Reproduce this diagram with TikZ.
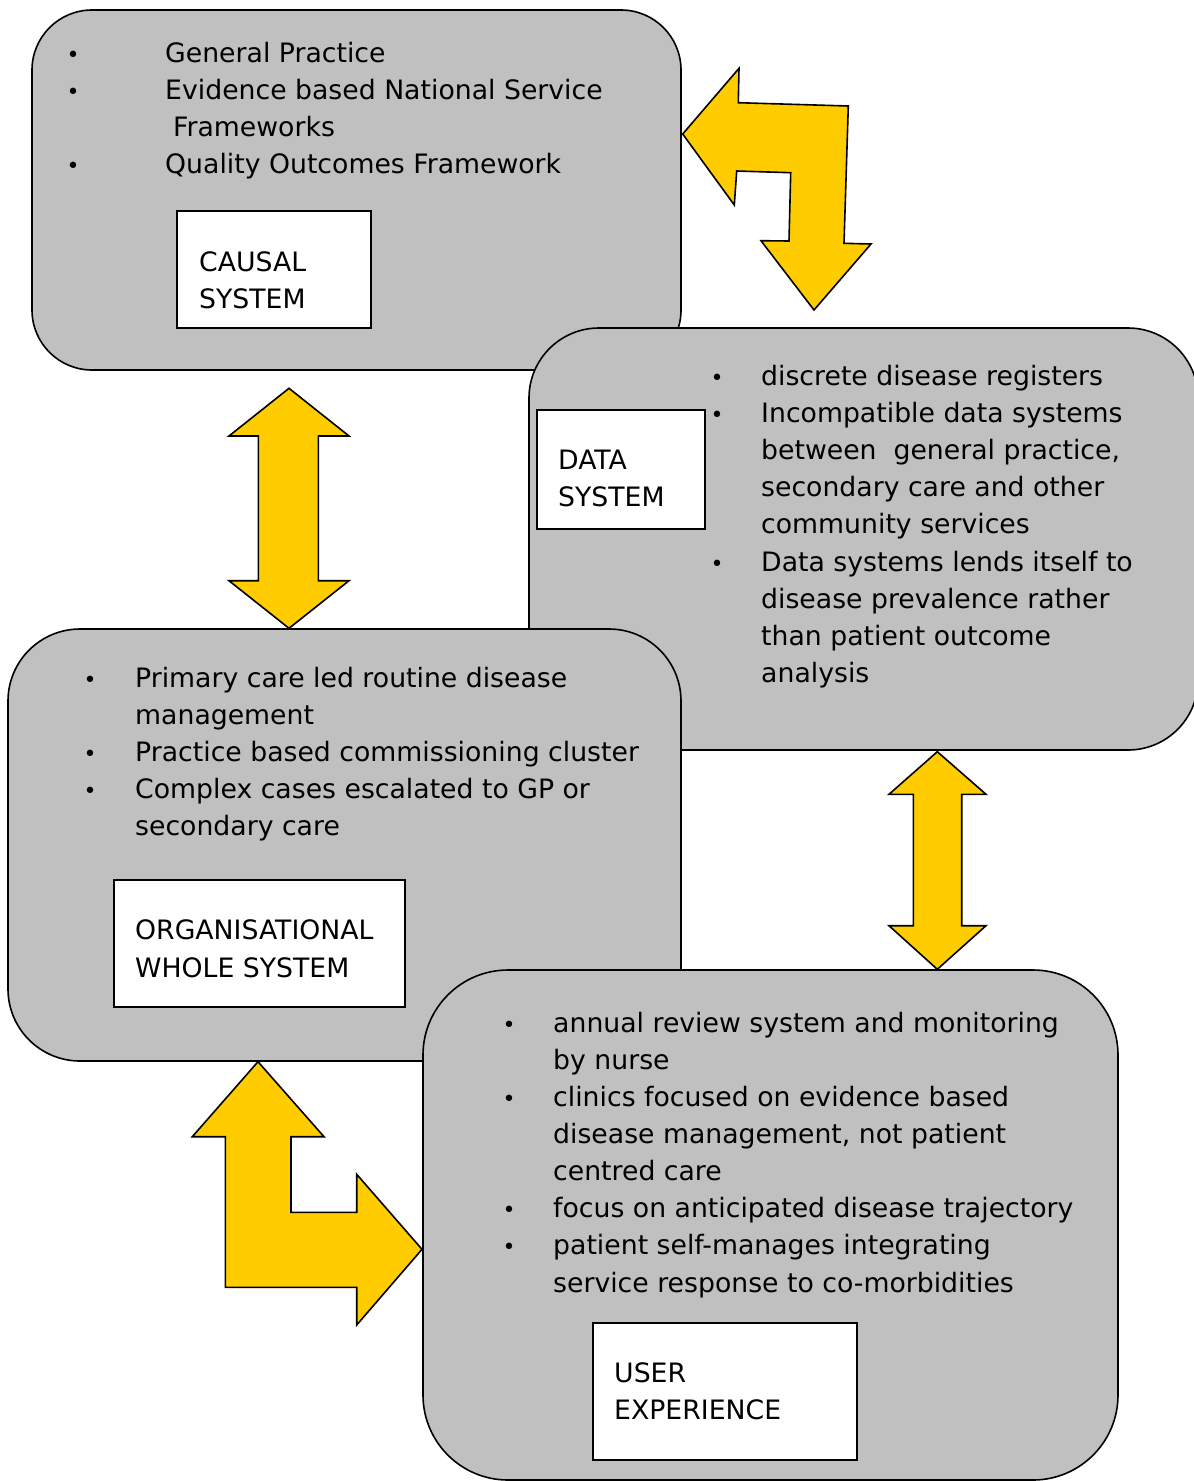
\documentclass[tikz,border=0pt]{standalone}
\usepackage{fontspec}
\setmainfont{DejaVu Sans}
\definecolor{panelgray}{HTML}{C0C0C0}
\definecolor{arrowyellow}{HTML}{FFCC00}
\begin{document}
\begin{tikzpicture}[x=1pt,y=-1pt,
  panel/.style={draw=black, line width=1.6pt, fill=panelgray, inner sep=0pt},
  tag/.style={draw=black, line width=1.6pt, fill=white, inner sep=0pt},
  txt/.style={anchor=base west, inner sep=0pt, font=\fontsize{26.7}{37}\selectfont},
  dot/.style={anchor=base, inner sep=0pt, font=\fontsize{22}{37}\selectfont},
  blockarrow/.style={draw=black, line width=1.6pt, fill=arrowyellow, line join=miter}]

\useasboundingbox (0,0) rectangle (1194,1481);

% ---- causal system ----
\node[panel, minimum width=649pt, minimum height=360pt, rounded corners=60pt] (causal) at (356.5,190) {};
\node[dot] (cb1) at (73,62.5) {•};
\node[txt] (c1) at (165,62.5) {General Practice};
\node[dot] (cb2) at (73,99.5) {•};
\node[txt] (c2) at (165,99.5) {Evidence based National Service};
\node[txt] (c3) at (173,136.5) {Frameworks};
\node[dot] (cb3) at (73,173.5) {•};
\node[txt] (c4) at (165,173.5) {Quality Outcomes Framework};
\node[tag, minimum width=194pt, minimum height=117pt] (causaltag) at (274,269.5) {};
\node[txt] (ct1) at (199,271.5) {CAUSAL};
\node[txt] (ct2) at (199,308.5) {SYSTEM};

% ---- data system ----
\node[panel, minimum width=669pt, minimum height=422pt, rounded corners=70pt] (data) at (863.5,539) {};
\node[dot] (db1) at (717,385) {•};
\node[txt] (d1) at (761,385) {discrete disease registers};
\node[dot] (db2) at (717,422) {•};
\node[txt] (d2) at (761,422) {Incompatible data systems};
\node[txt] (d3) at (761,459) {between~ general practice,};
\node[txt] (d4) at (761,496) {secondary care and other};
\node[txt] (d5) at (761,533.5) {community services};
\node[dot] (db3) at (717,571) {•};
\node[txt] (d6) at (761,571) {Data systems lends itself to};
\node[txt] (d7) at (761,608) {disease prevalence rather};
\node[txt] (d8) at (761,645) {than patient outcome};
\node[txt] (d9) at (761,682) {analysis};
\node[tag, minimum width=168pt, minimum height=119pt] (datatag) at (621,469.5) {};
\node[txt] (dt1) at (558,469) {DATA};
\node[txt] (dt2) at (558,506) {SYSTEM};

% ---- organisational whole system ----
\node[panel, minimum width=673pt, minimum height=432pt, rounded corners=72pt] (org) at (344.5,845) {};
\node[dot] (ob1) at (90,687) {•};
\node[txt] (o1) at (135,687) {Primary care led routine disease};
\node[txt] (o2) at (135,724) {management};
\node[dot] (ob2) at (90,761) {•};
\node[txt] (o3) at (135,761) {Practice based commissioning cluster};
\node[dot] (ob3) at (90,798) {•};
\node[txt] (o4) at (135,798) {Complex cases escalated to GP or};
\node[txt] (o5) at (135,835) {secondary care};
\node[tag, minimum width=291pt, minimum height=127pt] (orgtag) at (259.5,943.5) {};
\node[txt] (ot1) at (135,939) {ORGANISATIONAL};
\node[txt] (ot2) at (135,977) {WHOLE SYSTEM};

% ---- user experience ----
\node[panel, minimum width=695pt, minimum height=510pt, rounded corners=85pt] (user) at (770.5,1225) {};
\node[dot] (ub1) at (509,1032) {•};
\node[txt] (u1) at (553,1032) {annual review system and monitoring};
\node[txt] (u2) at (553,1069) {by nurse};
\node[dot] (ub2) at (509,1106) {•};
\node[txt] (u3) at (553,1106) {clinics focused on evidence based};
\node[txt] (u4) at (553,1143) {disease management, not patient};
\node[txt] (u5) at (553,1180) {centred care};
\node[dot] (ub3) at (509,1217) {•};
\node[txt] (u6) at (553,1217) {focus on anticipated disease trajectory};
\node[dot] (ub4) at (509,1254) {•};
\node[txt] (u7) at (553,1254) {patient self-manages integrating};
\node[txt] (u8) at (553,1292) {service response to co-morbidities};
\node[tag, minimum width=264pt, minimum height=137pt] (usertag) at (725,1391.5) {};
\node[txt] (ut1) at (614,1382) {USER};
\node[txt] (ut2) at (614,1419) {EXPERIENCE};

% ---- block arrows between the systems ----
% causal <-> data (bent)
\draw[blockarrow] (682.7,134) -- (739,68.3) -- (738.3,102.7) -- (848.3,106)
  -- (844,243.3) -- (871,244) -- (814,310) -- (761,240.7) -- (789,241)
  -- (790.7,172.7) -- (736.7,171) -- (734.3,205) -- cycle;
% causal <-> organisational
\draw[blockarrow] (289,388.3) -- (349,436) -- (318.3,436) -- (318.3,580.7)
  -- (349,580.7) -- (289,628.3) -- (229,580.7) -- (258.3,580.7)
  -- (258.3,436) -- (229,436) -- cycle;
% data <-> user
\draw[blockarrow] (937.3,751.7) -- (986,794.3) -- (961.7,794.3) -- (961.7,925.7)
  -- (986,925.7) -- (937.3,969.3) -- (889,925.7) -- (913.3,925.7)
  -- (913.3,794.3) -- (889,794.3) -- cycle;
% organisational <-> user (bent)
\draw[blockarrow] (258,1061.7) -- (324,1136.7) -- (291,1136.7) -- (291,1212.3)
  -- (356.7,1212.3) -- (356.7,1174.3) -- (422,1249.3) -- (356.7,1325)
  -- (356.7,1287.3) -- (225.3,1287.3) -- (225.3,1136.7) -- (192.3,1136.7) -- cycle;
\end{tikzpicture}
\end{document}
